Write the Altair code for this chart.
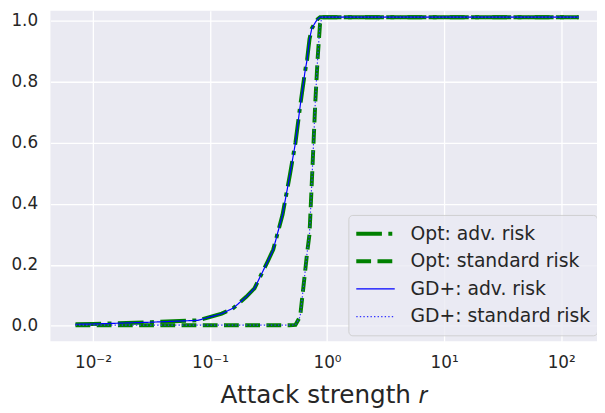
import altair as alt
import pandas as pd

# attack strength r (log-spaced readings)
r_values = [0.0071, 0.01, 0.0316, 0.079, 0.126, 0.158, 0.204, 0.24, 0.31, 0.347,
            0.417, 0.479, 0.537, 0.589, 0.646, 0.676, 0.708, 0.741, 0.794, 0.832,
            0.871, 0.912, 1.0, 3.16, 10.0, 31.6, 100.0, 141.0]

opt_adv = [0.005, 0.006, 0.012, 0.018, 0.040, 0.058, 0.095, 0.123, 0.21, 0.25,
           0.365, 0.49, 0.60, 0.72, 0.83, 0.874, 0.94, 0.975, 0.995, 1.006,
           1.012, 1.012, 1.012, 1.012, 1.012, 1.012, 1.012, 1.012]
opt_std = [0.002, 0.002, 0.002, 0.002, 0.002, 0.002, 0.002, 0.002, 0.002, 0.002,
           0.002, 0.002, 0.003, 0.03, 0.17, 0.24, 0.30, 0.47, 0.735, 0.88,
           0.99, 1.012, 1.012, 1.012, 1.012, 1.012, 1.012, 1.012]
gd_adv = [0.005, 0.006, 0.012, 0.018, 0.040, 0.058, 0.095, 0.123, 0.21, 0.25,
          0.365, 0.49, 0.60, 0.72, 0.83, 0.874, 0.94, 0.975, 0.995, 1.006,
          1.012, 1.012, 1.012, 1.012, 1.012, 1.012, 1.012, 1.012]
gd_std = [0.002, 0.002, 0.002, 0.002, 0.002, 0.002, 0.002, 0.002, 0.002, 0.002,
          0.002, 0.002, 0.003, 0.03, 0.17, 0.24, 0.30, 0.47, 0.735, 0.88,
          0.99, 1.012, 1.012, 1.012, 1.012, 1.012, 1.012, 1.012]

series_names = ["Opt: adv. risk", "Opt: standard risk", "GD+: adv. risk", "GD+: standard risk"]
series_values = [opt_adv, opt_std, gd_adv, gd_std]
series_colors = ["#008000", "#008000", "#0000FF", "#3333FF"]
series_dashes = [[26, 6.5, 4, 6.5], [15, 6.5], [1, 0], [1.4, 2.2]]
series_widths = [4, 4, 1.2, 1.2]

x_ticks = [0.01, 0.1, 1, 10, 100]
y_ticks = [0.0, 0.2, 0.4, 0.6, 0.8, 1.0]

rows = []
for name, vals in zip(series_names, series_values):
    for r, v in zip(r_values, vals):
        rows.append({"r": r, "risk": v, "series": name})
df = pd.DataFrame(rows)

FONT = "DejaVu Sans"
TXT = "#262626"

x_enc = alt.X("r:Q",
              scale=alt.Scale(type="log", domain=[10 ** -2.363, 10 ** 2.306], nice=False),
              axis=alt.Axis(values=x_ticks,
                            labelExpr="'10' + (datum.value < 1 ? '⁻' : '') + ['⁰','¹','²','³'][abs(round(log(datum.value)/LN10))]",
                            grid=True, gridColor="white", gridWidth=1.3,
                            domain=False, ticks=False,
                            labelFont=FONT, labelFontSize=17, labelColor=TXT, labelPadding=14,
                            title="Attack strength 𝑟", titleFont=FONT, titleFontSize=25,
                            titleFontWeight="normal", titleColor=TXT, titlePadding=12))
y_enc = alt.Y("risk:Q",
              scale=alt.Scale(domain=[-0.0505, 1.0333], nice=False, zero=False),
              axis=alt.Axis(values=y_ticks, format=".1f",
                            grid=True, gridColor="white", gridWidth=1.3,
                            domain=False, ticks=False,
                            labelFont=FONT, labelFontSize=17, labelColor=TXT, labelPadding=13,
                            title=None))

legend = alt.Legend(title=None, orient="none", legendX=302, legendY=207,
                    symbolType="stroke", symbolSize=1521, clipHeight=26, rowPadding=2,
                    labelFont=FONT, labelFontSize=19, labelColor=TXT, labelOffset=14,
                    labelLimit=400,
                    padding=6, fillColor="rgba(234,234,242,0.8)",
                    strokeColor="rgba(204,204,204,0.9)", cornerRadius=4)

color_enc = alt.Color("series:N", scale=alt.Scale(type="ordinal", domain=series_names, range=series_colors), legend=legend)
dash_enc = alt.StrokeDash("series:N", scale=alt.Scale(type="ordinal", domain=series_names, range=series_dashes), legend=legend)
width_enc = alt.StrokeWidth("series:N", scale=alt.Scale(type="ordinal", domain=series_names, range=series_widths), legend=legend)

layers = []
for name in series_names:
    layers.append(
        alt.Chart(df).transform_filter(alt.datum.series == name)
        .mark_line(clip=True)
        .encode(x=x_enc, y=y_enc, color=color_enc, strokeDash=dash_enc, strokeWidth=width_enc)
    )

chart = alt.layer(*layers).properties(
    width=554, height=335,
    background="white",
    autosize=alt.AutoSizeParams(type="none"),
    padding={"left": 43, "top": 0, "right": 0, "bottom": 70},
).configure_view(fill="#EAEAF2", strokeWidth=0)

chart.save("out.html", embed_options={"renderer": "svg", "actions": False})
